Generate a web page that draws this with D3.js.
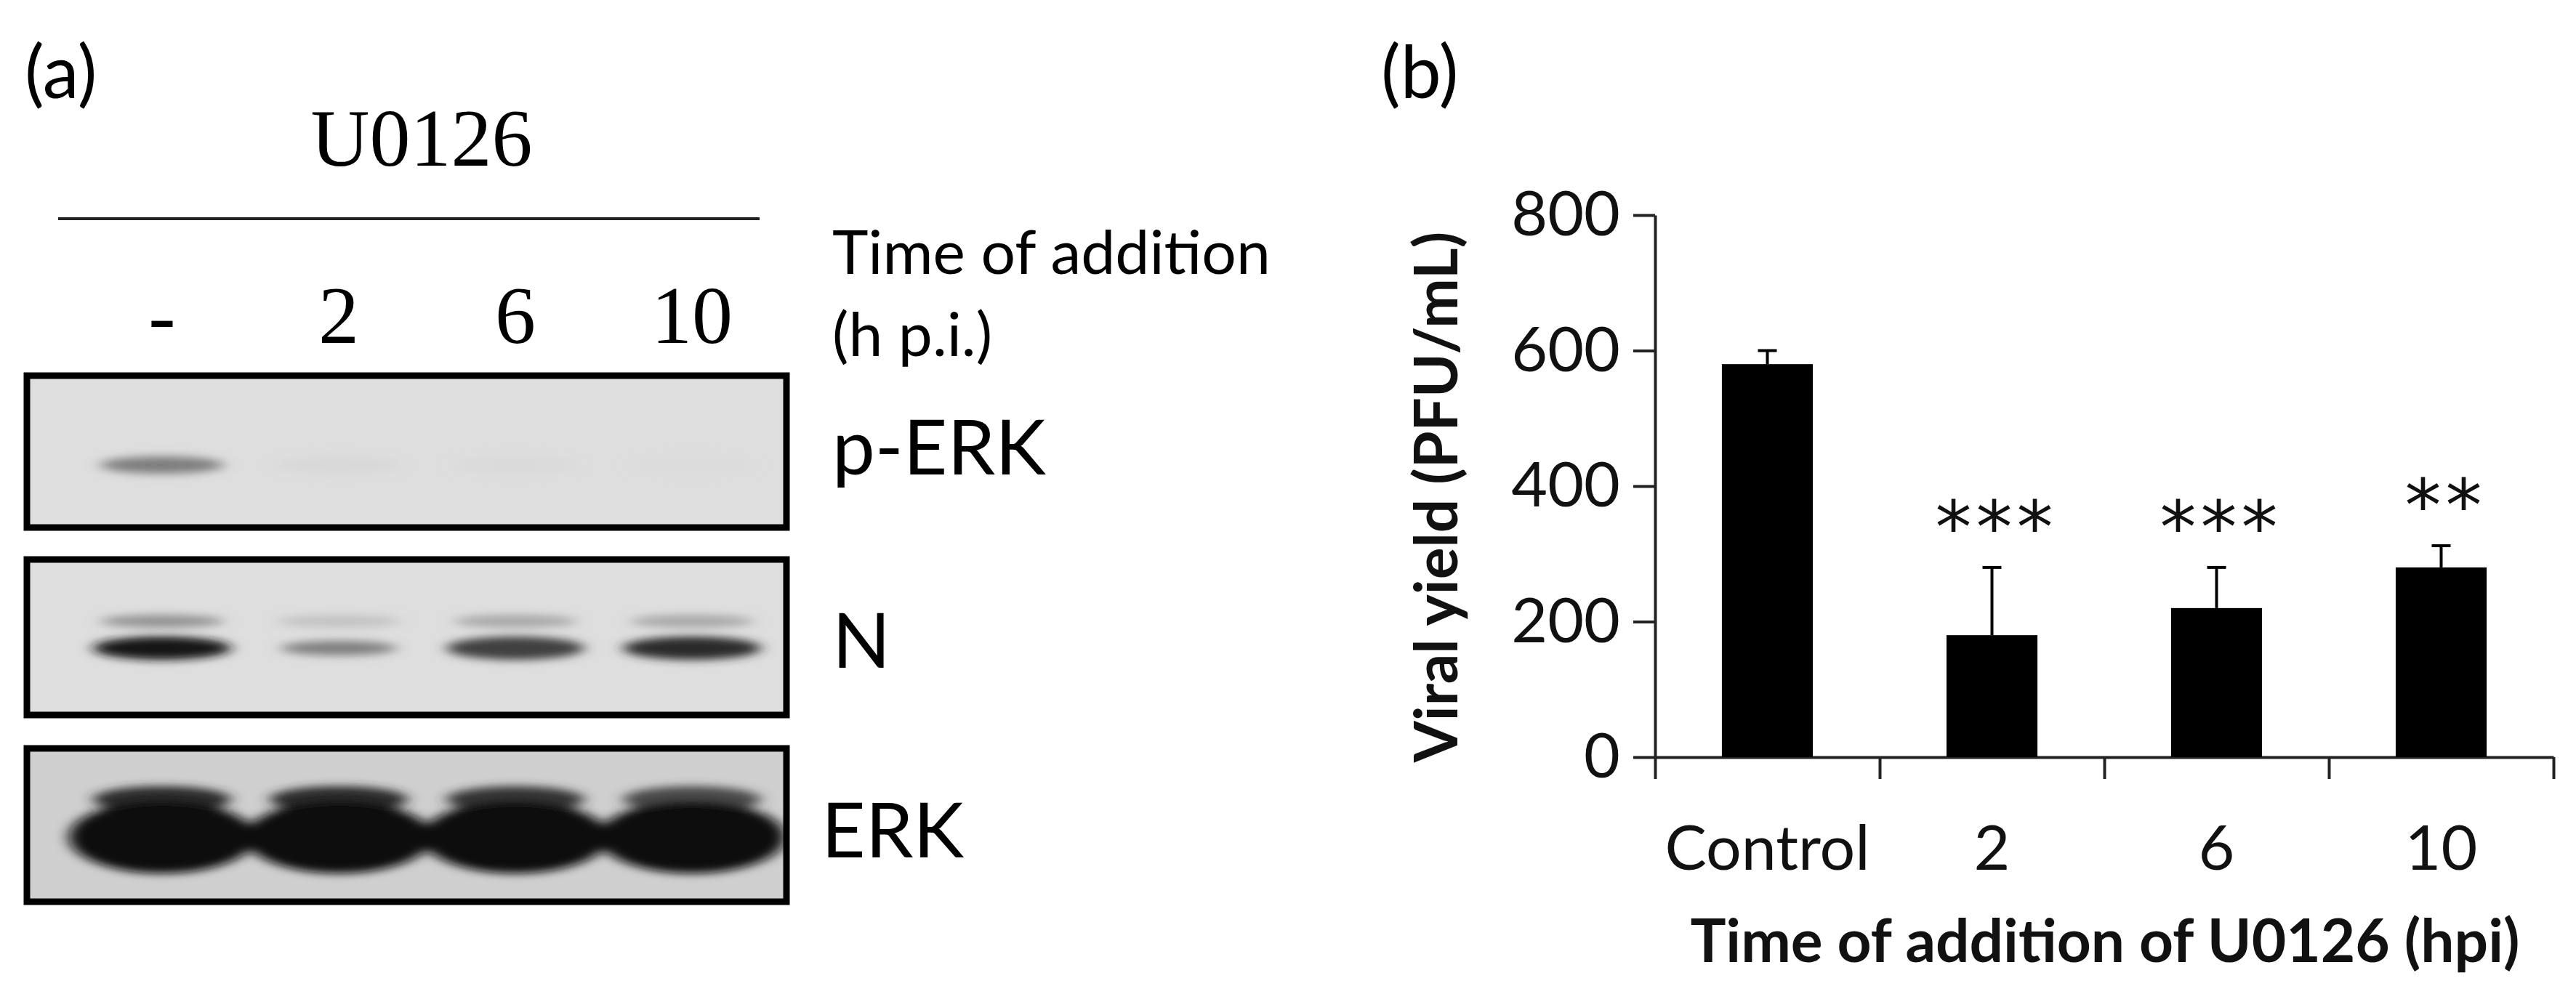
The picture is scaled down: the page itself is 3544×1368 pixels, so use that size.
<!DOCTYPE html>
<html><head><meta charset="utf-8">
<script src="https://cdn.jsdelivr.net/npm/d3@7"></script>
<style>body{margin:0;background:#fff}svg{display:block}</style>
</head><body>
<svg id="c" width="3544" height="1368"></svg>
<script>
const lanes = ["-", "2", "6", "10"];
const blotNames = ["p-ERK", "N", "ERK"];
const pErkBand = [0.45, 0.02, 0.01, 0.0];
const nBand = [0.95, 0.45, 0.75, 0.85];
const nUpper = [0.35, 0.12, 0.25, 0.25];
const erkBand = [1.0, 1.0, 1.0, 1.0];
const erkUpper = [0.85, 0.85, 0.8, 0.7];

const categories = ["Control", "2", "6", "10"];
const values = [580, 180, 220, 280];
const errors = [20, 100, 60, 32];
const stars = ["", "***", "***", "**"];
const yTicks = [0, 200, 400, 600, 800];

const svg = d3.select("#c");
const sans = "Lato, 'Open Sans', sans-serif";
const serif = "'Liberation Serif', 'DejaVu Serif', serif";

const defs = svg.append("defs");
defs.append("filter").attr("id","blur").attr("x","-50%").attr("y","-100%").attr("width","200%").attr("height","300%")
  .append("feGaussianBlur").attr("stdDeviation", "10 6");

// ---- Panel a ----
svg.append("text").attr("x",34).attr("y",135).attr("font-family",sans).attr("font-size",100).text("(a)");
svg.append("text").attr("x",580).attr("y",228).attr("text-anchor","middle").attr("font-family",serif).attr("font-size",112).text("U0126");
svg.append("line").attr("x1",80).attr("x2",1045).attr("y1",301).attr("y2",301).attr("stroke","#222").attr("stroke-width",4);
svg.append("text").attr("x",1145).attr("y",377).attr("font-family",sans).attr("font-size",84).text("Time of addition");
svg.append("text").attr("x",1145).attr("y",490).attr("font-family",sans).attr("font-size",84).text("(h p.i.)");

const lx = d3.scalePoint().domain(lanes).range([223, 952]);
svg.selectAll(".lane").data(lanes).join("text")
  .attr("x", d => lx(d)).attr("y", 472).attr("text-anchor","middle")
  .attr("font-family", serif).attr("font-size", 112).text(d => d);

const boxes = [{y0:517,y1:726},{y0:770,y1:984},{y0:1030,y1:1241}];
const bx0 = 37, bx1 = 1082;
const gray = v => d3.interpolateRgb("#dcdcdc", "#0a0a0a")(v);

boxes.forEach((b,i) => {
  defs.append("clipPath").attr("id","clip"+i).append("rect")
    .attr("x",bx0).attr("y",b.y0).attr("width",bx1-bx0).attr("height",b.y1-b.y0);
  svg.append("rect").attr("x",bx0).attr("y",b.y0).attr("width",bx1-bx0).attr("height",b.y1-b.y0)
    .attr("fill", i===2 ? "#cfcfcf" : "#dedede");
});
const g0 = svg.append("g").attr("clip-path","url(#clip0)").append("g").attr("filter","url(#blur)");
const g1 = svg.append("g").attr("clip-path","url(#clip1)").append("g").attr("filter","url(#blur)");
const g2 = svg.append("g").attr("clip-path","url(#clip2)").append("g").attr("filter","url(#blur)");
g0.selectAll(".pb").data(lanes).join("ellipse")
  .attr("cx", d=>lx(d)).attr("cy", 640).attr("rx", 85).attr("ry", 12)
  .attr("fill", (d,i)=>gray(pErkBand[i]));
g1.selectAll(".nu").data(lanes).join("ellipse")
  .attr("cx", d=>lx(d)).attr("cy", 855).attr("rx", 85).attr("ry", 9)
  .attr("fill", (d,i)=>gray(nUpper[i]));
g1.selectAll(".nb").data(lanes).join("ellipse")
  .attr("cx", d=>lx(d)).attr("cy", 892).attr("rx", (d,i)=>i===1?80:95).attr("ry", (d,i)=>i===1?10:16)
  .attr("fill", (d,i)=>gray(nBand[i]));
g2.selectAll(".eu").data(lanes).join("ellipse")
  .attr("cx", d=>lx(d)).attr("cy", 1100).attr("rx", 95).attr("ry", 18)
  .attr("fill", (d,i)=>gray(erkUpper[i]));
g2.selectAll(".eb").data(lanes).join("ellipse")
  .attr("cx", d=>lx(d)).attr("cy", 1152).attr("rx", 128).attr("ry", 50)
  .attr("fill", (d,i)=>gray(erkBand[i]));

boxes.forEach(b => {
  svg.append("rect").attr("x",bx0).attr("y",b.y0).attr("width",bx1-bx0).attr("height",b.y1-b.y0)
    .attr("fill","none").attr("stroke","#000").attr("stroke-width",9);
});
const labY = [653, 919, 1180], labX = [1145, 1145, 1130];
svg.selectAll(".bl").data(blotNames).join("text")
  .attr("x",(d,i)=>labX[i]).attr("y",(d,i)=>labY[i]).attr("font-family",sans).attr("font-size",105).text(d=>d);

// ---- Panel b ----
svg.append("text").attr("x",1900).attr("y",135).attr("font-family",sans).attr("font-size",100).text("(b)");
const x0 = 2277, x1 = 3513;
const y = d3.scaleLinear().domain([0,800]).range([1042,296]);
const x = d3.scaleBand().domain(categories).range([x0,x1]).paddingInner(0.595).paddingOuter(0.2975);

const ya = svg.append("g").attr("transform",`translate(${x0},0)`)
  .call(d3.axisLeft(y).tickValues(yTicks).tickSize(30).tickPadding(18).tickSizeOuter(0));
ya.selectAll("text").attr("font-family",sans).attr("font-size",86).attr("fill","#111");
ya.selectAll("path,line").attr("stroke","#222").attr("stroke-width",4);

const xa = svg.append("g").attr("transform",`translate(0,${y(0)})`)
  .call(d3.axisBottom(d3.scaleLinear().domain([0,4]).range([x0,x1])).tickValues([0,1,2,3,4]).tickSize(30).tickFormat("").tickSizeOuter(0));
xa.selectAll("path,line").attr("stroke","#222").attr("stroke-width",4);

svg.selectAll(".cl").data(categories).join("text")
  .attr("x",d=>x(d)+x.bandwidth()/2).attr("y",1197).attr("text-anchor","middle")
  .attr("font-family",sans).attr("font-size",86).attr("fill","#111").text(d=>d);

const cap = 13;
svg.selectAll(".ev").data(categories).join("line")
  .attr("x1",d=>x(d)+x.bandwidth()/2).attr("x2",d=>x(d)+x.bandwidth()/2)
  .attr("y1",(d,i)=>y(values[i])).attr("y2",(d,i)=>y(values[i]+errors[i]))
  .attr("stroke","#000").attr("stroke-width",4);
svg.selectAll(".ec").data(categories).join("line")
  .attr("x1",d=>x(d)+x.bandwidth()/2-cap).attr("x2",d=>x(d)+x.bandwidth()/2+cap)
  .attr("y1",(d,i)=>y(values[i]+errors[i])).attr("y2",(d,i)=>y(values[i]+errors[i]))
  .attr("stroke","#000").attr("stroke-width",4);
svg.selectAll(".bar").data(categories).join("rect")
  .attr("x",d=>x(d)).attr("width",x.bandwidth())
  .attr("y",(d,i)=>y(values[i])).attr("height",(d,i)=>y(0)-y(values[i])).attr("fill","#000");

svg.selectAll(".st").data(categories).join("text")
  .attr("x",d=>x(d)+x.bandwidth()/2+6).attr("y",(d,i)=>y(values[i]+errors[i])-95).attr("text-anchor","middle")
  .attr("font-family","'DejaVu Sans', sans-serif").attr("font-size",100).attr("letter-spacing",6).attr("fill","#111")
  .attr("dy","0.75em").text(d=>stars[categories.indexOf(d)]);

svg.append("text").attr("x",2896).attr("y",1324).attr("text-anchor","middle")
  .attr("font-family",sans).attr("font-weight","bold").attr("font-size",82).attr("fill","#111")
  .text("Time of addition of U0126 (hpi)");
svg.append("text").attr("transform","translate(2005,684) rotate(-90)").attr("text-anchor","middle")
  .attr("font-family",sans).attr("font-weight","bold").attr("font-size",82).attr("fill","#111")
  .text("Viral yield (PFU/mL)");
</script>
</body></html>
